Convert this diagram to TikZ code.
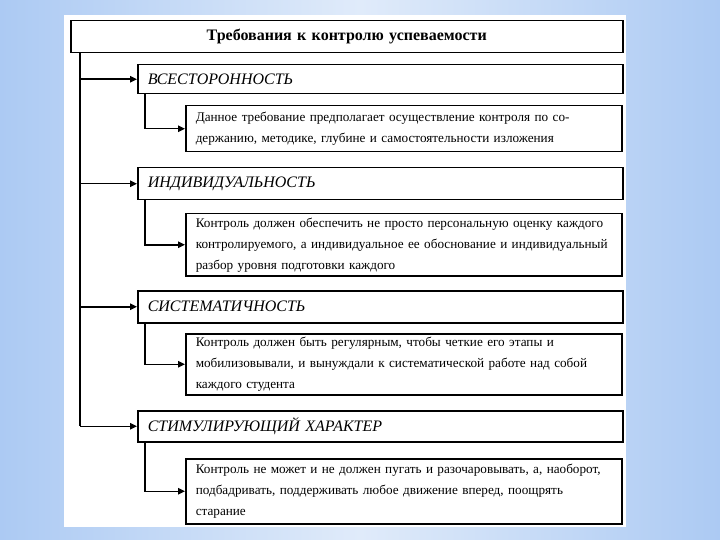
\documentclass[tikz,border=0pt]{standalone}
\usepackage{fontspec}
\setmainfont{Liberation Serif}
\usetikzlibrary{arrows.meta}
\definecolor{bgedge}{RGB}{172,202,243}
\definecolor{bgmid}{RGB}{224,235,250}
\tikzset{
  box/.style={draw=black, line width=1.5pt, fill=white, anchor=north west, inner xsep=10pt, inner ysep=0pt, align=left},
  titlebox/.style={box, align=center, font=\fontsize{16}{18}\selectfont\bfseries},
  headbox/.style={box, font=\fontsize{16}{18}\selectfont\itshape},
  descbox/.style={box, font=\fontsize{13.2}{21}\selectfont},
  link/.style={draw=black, line width=1.5pt},
  arr/.style={link, -{Triangle[length=7pt,width=6.5pt]}}
}
\begin{document}
\begin{tikzpicture}[x=1pt,y=-1pt]
\useasboundingbox (0,0) rectangle (720,540);
\shade[left color=bgedge, right color=bgedge, middle color=bgmid] (0,0) rectangle (720,540);
\fill[white] (64,15) rectangle (626,527);

\node[titlebox, text width=532pt, minimum height=32pt] (title) at (70,20) {Требования к контролю успеваемости};

\node[headbox, text width=465pt, minimum height=29pt] (h1) at (137,64) {ВСЕСТОРОННОСТЬ};
\node[descbox, text width=416pt, minimum height=46pt] (d1) at (185,105) {Данное требование предполагает осуществление контроля по со-\\держанию, методике, глубине и самостоятельности изложения};

\node[headbox, text width=465pt, minimum height=32pt] (h2) at (137,167) {ИНДИВИДУАЛЬНОСТЬ};
\node[descbox, text width=416pt, minimum height=62pt] (d2) at (185,213) {Контроль должен обеспечить не просто персональную оценку каждого\\контролируемого, а индивидуальное ее обоснование и индивидуальный\\разбор уровня подготовки каждого};

\node[headbox, text width=465pt, minimum height=32pt] (h3) at (137,290) {СИСТЕМАТИЧНОСТЬ};
\node[descbox, text width=416pt, minimum height=61pt] (d3) at (185,333) {Контроль должен быть регулярным, чтобы четкие его этапы и\\мобилизовывали, и вынуждали к систематической работе над собой\\каждого студента};

\node[headbox, text width=465pt, minimum height=31pt] (h4) at (137,410) {СТИМУЛИРУЮЩИЙ ХАРАКТЕР};
\node[descbox, text width=416pt, minimum height=65pt] (d4) at (185,458) {Контроль не может и не должен пугать и разочаровывать, а, наоборот,\\подбадривать, поддерживать любое движение вперед, поощрять\\старание};

\coordinate (spine) at (80,0);
\coordinate (sub) at (145,0);

\draw[link] (title.south -| spine) -- (spine |- h4.west);
\draw[arr] (spine |- h1.west) -- (h1.west);
\draw[arr] (spine |- h2.west) -- (h2.west);
\draw[arr] (spine |- h3.west) -- (h3.west);
\draw[arr] (spine |- h4.west) -- (h4.west);

\draw[arr] (h1.south -| sub) |- (d1.west);
\draw[arr] (h2.south -| sub) |- (d2.west);
\draw[arr] (h3.south -| sub) |- (d3.west);
\draw[arr] (h4.south -| sub) |- (d4.west);
\end{tikzpicture}
\end{document}
